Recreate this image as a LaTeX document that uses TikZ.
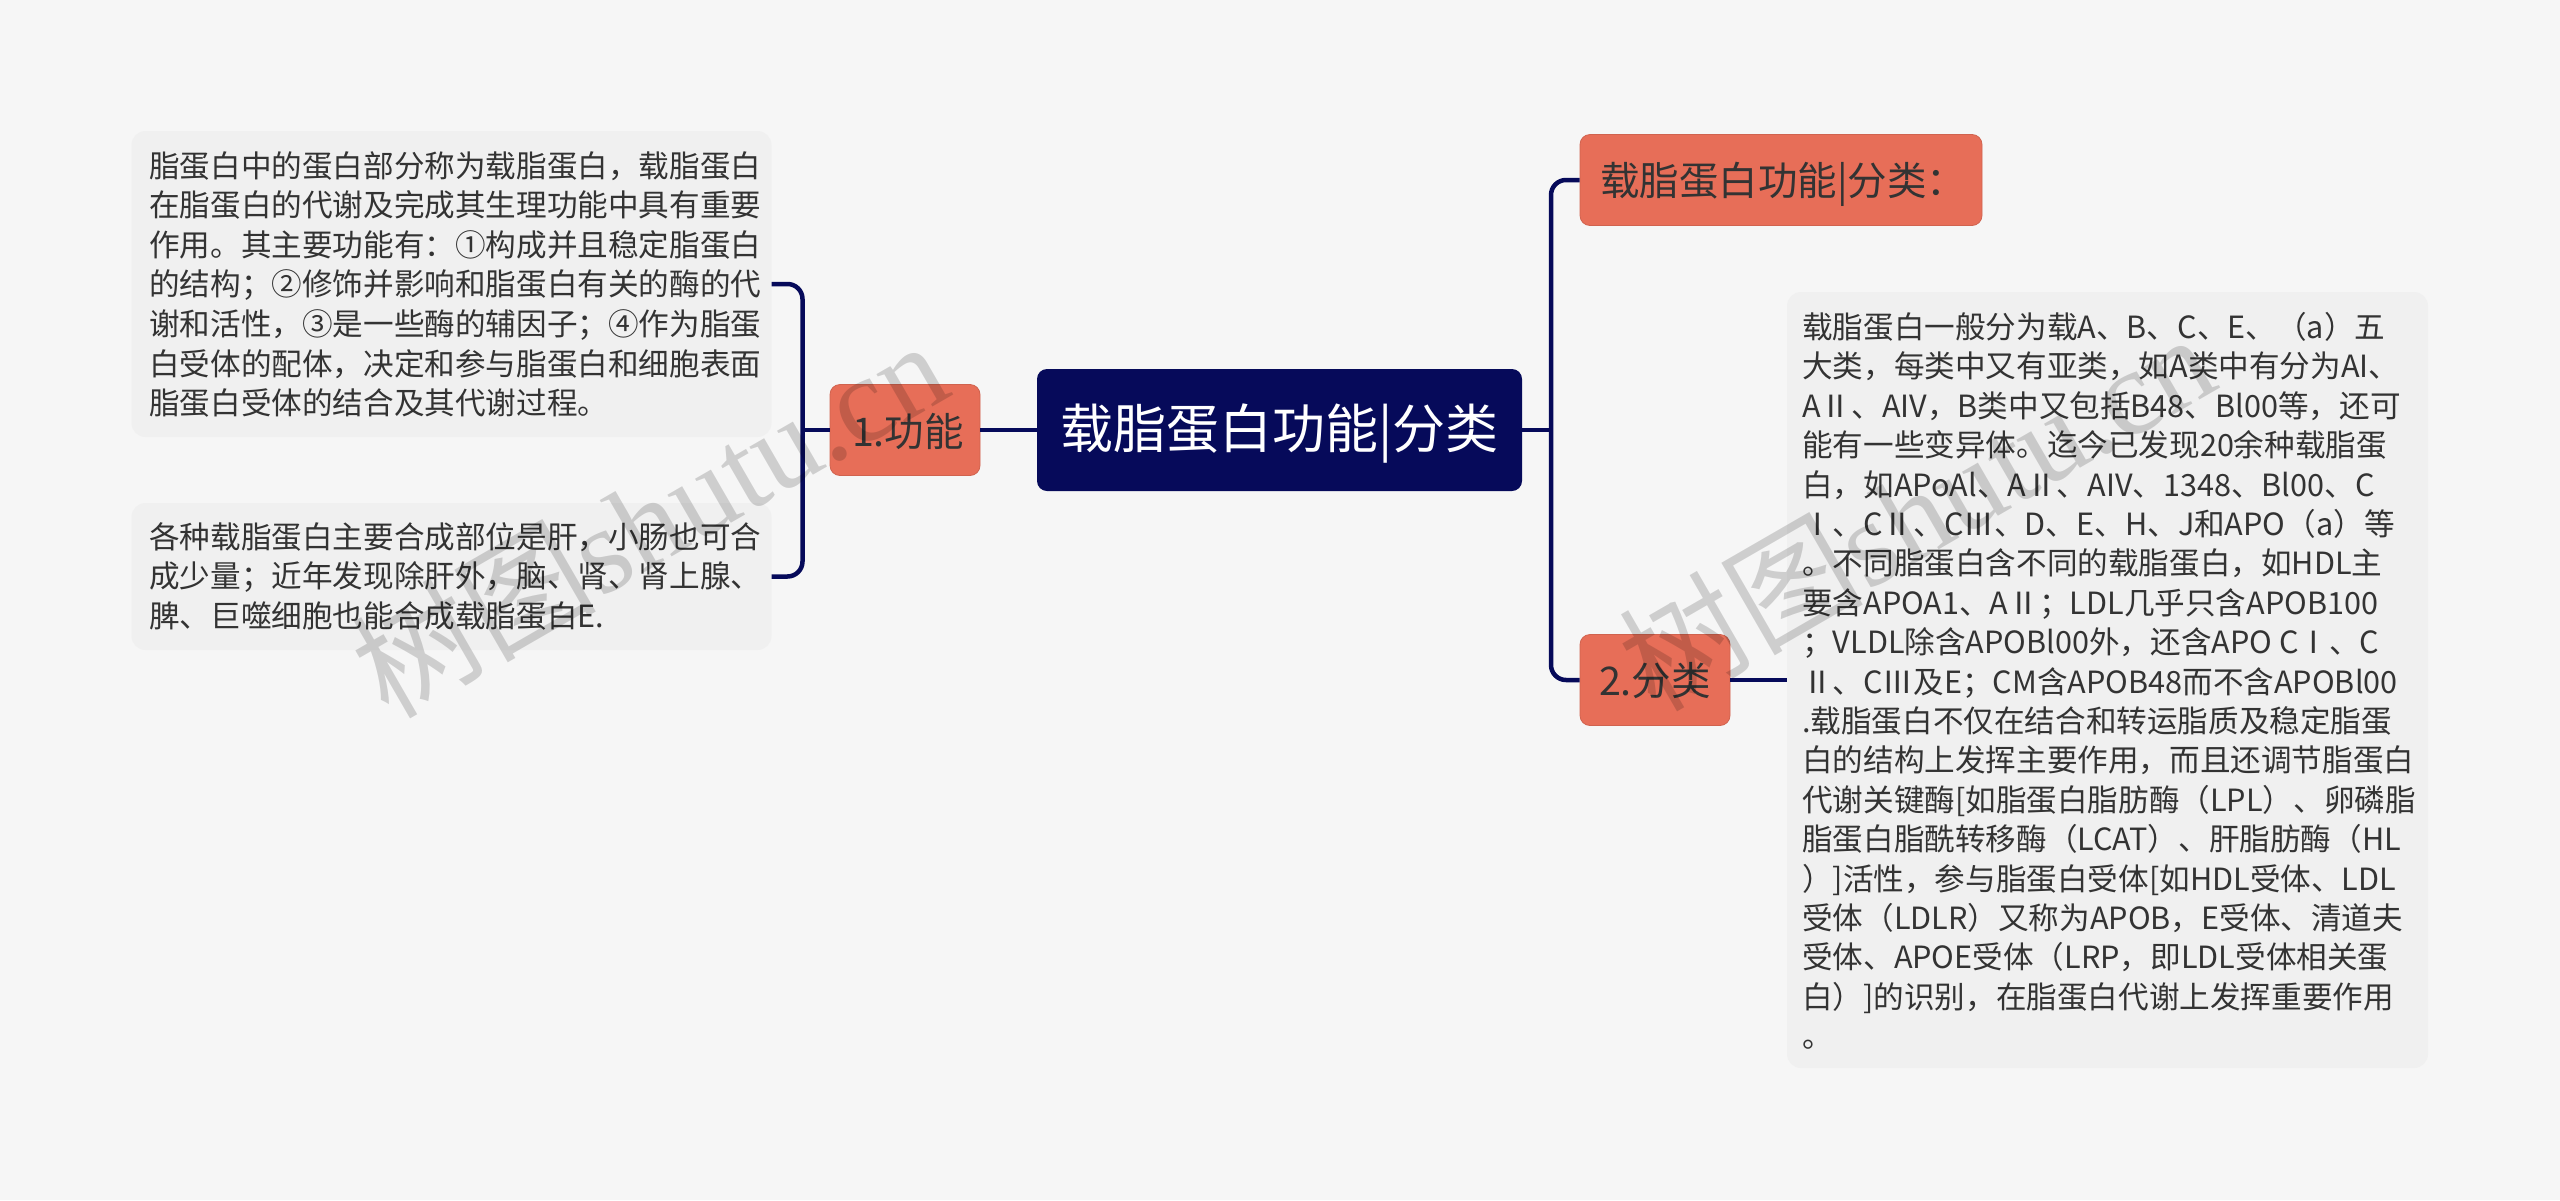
\documentclass[tikz,border=0pt]{standalone}
\usepackage{fontspec}
\setmainfont{Noto Sans CJK SC}
\newfontfamily\wmlatin{Liberation Serif}
\definecolor{pagebg}{HTML}{F6F6F6}
\definecolor{notebg}{HTML}{F0F0F0}
\definecolor{rootblue}{HTML}{060A5A}
\definecolor{branchred}{HTML}{E76E58}
\definecolor{inktext}{HTML}{333333}
\newcommand{\lowered}[2]{\raisebox{-#1}[\height][\depth]{#2}}
\tikzset{
  rootbox/.style={fill=rootblue,rounded corners=10pt,text=white,inner sep=0pt,
    font=\fontsize{53}{60}\selectfont},
  branchbox/.style={fill=branchred,draw=branchred!90!black,line width=0.8pt,rounded corners=10pt,
    text=inktext,inner sep=0pt,font=\fontsize{39.5}{46}\selectfont},
  notebox/.style={fill=notebg,rounded corners=14pt,inner sep=0pt},
  notetext/.style={anchor=north west,align=left,inner sep=0pt,text=inktext,
    font=\fontsize{30.6}{39.6}\selectfont},
  link/.style={draw=rootblue,line width=4.5pt,rounded corners=15pt},
  wmark/.style={text=black,opacity=0.16,rotate=30,inner sep=0pt}
}
\begin{document}
\begin{tikzpicture}[x=1pt,y=-1pt]
  \fill[pagebg] (0,0) rectangle (2560,1200);
  \useasboundingbox (0,0) rectangle (2560,1200);
  % main boxes
  \node[rootbox,minimum width=485pt,minimum height=122pt] (root) at (1279.5,430) {\lowered{4pt}{载脂蛋白功能|分类}};
  \node[branchbox,minimum width=150pt,minimum height=91pt] (func) at (905,430) {\hspace*{6pt}\lowered{1pt}{1.功能}};
  \node[branchbox,minimum width=402pt,minimum height=91pt,text width=362pt,align=left] (title) at (1781,180) {\lowered{4pt}{载脂蛋白功能|分类：}};
  \node[branchbox,minimum width=150pt,minimum height=91pt] (kinds) at (1655,680) {\lowered{1pt}{2.分类}};
  % notes
  \node[notebox,minimum width=640pt,minimum height=306pt] (noteA) at (451.5,284) {};
  \node[notebox,minimum width=640pt,minimum height=147pt] (noteB) at (451.5,576.5) {};
  \node[notebox,minimum width=641pt,minimum height=776pt] (noteC) at (2107.5,680) {};
  \node[notetext] (textA) at (149,151) {脂蛋白中的蛋白部分称为载脂蛋白，载脂蛋白\\在脂蛋白的代谢及完成其生理功能中具有重要\\作用。其主要功能有：①构成并且稳定脂蛋白\\的结构；②修饰并影响和脂蛋白有关的酶的代\\谢和活性，③是一些酶的辅因子；④作为脂蛋\\白受体的配体，决定和参与脂蛋白和细胞表面\\脂蛋白受体的结合及其代谢过程。};
  \node[notetext] (textB) at (149,522) {各种载脂蛋白主要合成部位是肝，小肠也可合\\成少量；近年发现除肝外，脑、肾、肾上腺、\\脾、巨噬细胞也能合成载脂蛋白E.};
  \node[notetext,font=\fontsize{30.6}{39.4}\selectfont] (textC) at (1802,312) {载脂蛋白一般分为载A、B、C、E、（a）五\\大类，每类中又有亚类，如A类中有分为AI、\\AⅡ、AIV，B类中又包括B48、Bl00等，还可\\能有一些变异体。迄今已发现20余种载脂蛋\\白，如APoAl、AⅡ、AIV、1348、Bl00、C\\Ⅰ、CⅡ、CⅢ、D、E、H、J和APO（a）等\\。不同脂蛋白含不同的载脂蛋白，如HDL主\\要含APOA1、AⅡ；LDL几乎只含APOB100\\；VLDL除含APOBl00外，还含APO CⅠ、C\\Ⅱ、CⅢ及E；CM含APOB48而不含APOBl00\\.载脂蛋白不仅在结合和转运脂质及稳定脂蛋\\白的结构上发挥主要作用，而且还调节脂蛋白\\代谢关键酶[如脂蛋白脂肪酶（LPL）、卵磷脂\\脂蛋白脂酰转移酶（LCAT）、肝脂肪酶（HL\\）]活性，参与脂蛋白受体[如HDL受体、LDL\\受体（LDLR）又称为APOB，E受体、清道夫\\受体、APOE受体（LRP，即LDL受体相关蛋\\白）]的识别，在脂蛋白代谢上发挥重要作用\\。};
  % connectors
  \coordinate (trunkL) at (802.5,430);
  \coordinate (trunkR) at (1551,430);
  \draw[link] (root.west) -- (func.east);
  \draw[link] (func.west) -- (trunkL);
  \draw[link] (noteA.east) -| (trunkL) |- (noteB.east);
  \draw[link] (root.east) -- (trunkR);
  \draw[link] (title.west) -| (trunkR) |- (kinds.west);
  \draw[link] (kinds.east) -- (noteC.west |- kinds.east);
  % watermark
  \node[wmark] (markA) at (649,517) {\fontsize{122}{130}\selectfont 树图{\wmlatin shutu.cn}};
  \node[wmark] (markB) at (1916,510) {\fontsize{122}{130}\selectfont 树图{\wmlatin shutu.cn}};
\end{tikzpicture}
\end{document}
